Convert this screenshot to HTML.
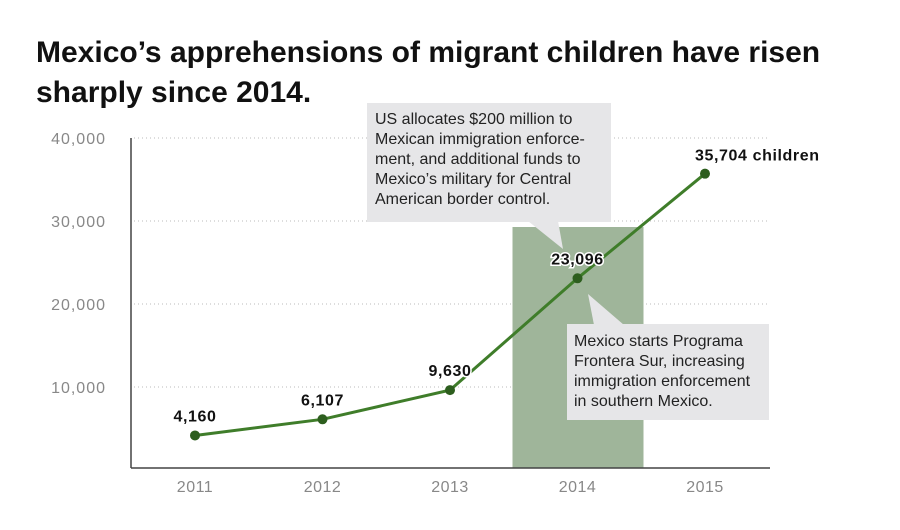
<!DOCTYPE html>
<html><head><meta charset="utf-8"><style>
body{margin:0;background:#fff;font-family:"Liberation Sans","DejaVu Sans",sans-serif}
svg text{font-family:"Liberation Sans","DejaVu Sans",sans-serif}
</style></head><body>
<svg width="900" height="525" viewBox="0 0 900 525">
<text x="36" y="62" font-size="30" font-weight="bold" fill="#111">Mexico’s apprehensions of migrant children have risen</text>
<text x="36" y="102" font-size="30" font-weight="bold" fill="#111">sharply since 2014.</text>
<g id="grid"></g>
<rect id="shade" fill="#9fb59a"/>
<line x1="131" y1="138" x2="131" y2="468" stroke="#444" stroke-width="1.5"/>
<line x1="131" y1="468" x2="770" y2="468" stroke="#444" stroke-width="1.5"/>
<g id="ticks"></g>
<g id="series"></g>
<g>
<rect x="367" y="103" width="244" height="119" fill="#e6e6e8"/>
<polygon points="528,221 558,221 563,249" fill="#e6e6e8"/>
<text font-size="16" fill="#222"><tspan x="375" y="124">US allocates $200 million to</tspan><tspan x="375" y="144">Mexican immigration enforce-</tspan><tspan x="375" y="164">ment, and additional funds to</tspan><tspan x="375" y="184">Mexico’s military for Central</tspan><tspan x="375" y="204">American border control.</tspan></text>
</g>
<g>
<rect x="567" y="324" width="202" height="96" fill="#e6e6e8"/>
<polygon points="588,294 594,325 624,325" fill="#e6e6e8"/>
<text font-size="16" fill="#222"><tspan x="574" y="346">Mexico starts Programa</tspan><tspan x="574" y="366">Frontera Sur, increasing</tspan><tspan x="574" y="386">immigration enforcement</tspan><tspan x="574" y="406">in southern Mexico.</tspan></text>
</g>
<g id="labels"></g>
</svg>
<script>
const years=["2011","2012","2013","2014","2015"];
const values=[4160,6107,9630,23096,35704];
const valueLabels=["4,160","6,107","9,630","23,096","35,704 children"];
const yTicks=[10000,20000,30000,40000];
const yTickLabels=["10,000","20,000","30,000","40,000"];
const shadeCategory="2014";
const NS="http://www.w3.org/2000/svg";
const x=i=>195+i*127.5;
const y=v=>470-v*(332/40000);
function mk(t,a,p){const e=document.createElementNS(NS,t);for(const k in a)e.setAttribute(k,a[k]);p.appendChild(e);return e;}
const grid=document.getElementById('grid'),ticks=document.getElementById('ticks'),ser=document.getElementById('series'),lab=document.getElementById('labels');
yTicks.forEach((v,i)=>{
 const g=mk('line',{x1:134,x2:770,y1:y(v),y2:y(v),stroke:'#bbb','stroke-width':1,'stroke-dasharray':'1 3'},grid);
 
 
 const t=mk('text',{x:106,y:y(v)+6,'font-size':16,'letter-spacing':1,fill:'#888','text-anchor':'end'},ticks);t.textContent=yTickLabels[i];
 
 
});
years.forEach((yr,i)=>{
 const t=mk('text',{x:x(i),y:492,'font-size':16,'letter-spacing':0.5,fill:'#888','text-anchor':'middle'},ticks);t.textContent=yr;
 
 
});
const si=years.indexOf(shadeCategory);
const sh=document.getElementById('shade');
sh.setAttribute('x',x(si)-65);sh.setAttribute('width',131);sh.setAttribute('y',227);sh.setAttribute('height',468-227);
const pl=mk('polyline',{points:values.map((v,i)=>x(i)+','+y(v)).join(' '),fill:'none',stroke:'#3f7d2a','stroke-width':3},ser);


values.forEach((v,i)=>{
 const c=mk('circle',{cx:x(i),cy:y(v),r:5,fill:'#2d5e1e'},ser);
 
 
 const last=i===values.length-1;
 const t=mk('text',{x:last?x(i)-10:x(i),y:y(v)-14,'font-size':16,'letter-spacing':0.6,'font-weight':'bold',fill:'#111','text-anchor':last?'start':'middle',stroke:'#fff','stroke-width':3,'paint-order':'stroke'},lab);
 if(last)t.setAttribute('y',y(v)-13);
 t.textContent=valueLabels[i];
 
 
});
</script>
</body></html>
